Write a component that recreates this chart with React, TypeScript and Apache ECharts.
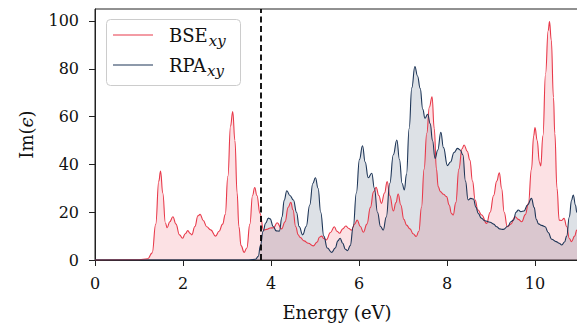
import { useEffect, useRef } from "react";
import * as echarts from "echarts";

const xTicks = [0, 2, 4, 6, 8, 10];
const yTicks = [0, 20, 40, 60, 80, 100];
const gapEnergy = 3.77;

const bseEnergy = [0, 1.0, 1.2, 1.3, 1.38, 1.45, 1.49, 1.54, 1.6, 1.64, 1.7, 1.77, 1.84, 1.92, 1.99, 2.05, 2.11, 2.16, 2.2, 2.27, 2.34, 2.39, 2.46, 2.54, 2.63, 2.74, 2.82, 2.9, 2.96, 3.02, 3.08, 3.13, 3.18, 3.23, 3.27, 3.32, 3.39, 3.45, 3.52, 3.58, 3.63, 3.68, 3.75, 3.83, 3.9, 3.98, 4.06, 4.14, 4.24, 4.32, 4.39, 4.45, 4.5, 4.56, 4.62, 4.66, 4.75, 4.85, 4.96, 5.05, 5.1, 5.15, 5.2, 5.26, 5.35, 5.44, 5.5, 5.56, 5.63, 5.7, 5.77, 5.83, 5.9, 5.96, 6.03, 6.1, 6.18, 6.26, 6.33, 6.39, 6.45, 6.51, 6.58, 6.64, 6.7, 6.78, 6.84, 6.89, 6.95, 7.02, 7.08, 7.16, 7.23, 7.3, 7.36, 7.42, 7.48, 7.54, 7.6, 7.66, 7.71, 7.76, 7.8, 7.85, 7.92, 7.99, 8.05, 8.1, 8.14, 8.2, 8.27, 8.34, 8.39, 8.46, 8.52, 8.58, 8.64, 8.7, 8.79, 8.9, 8.98, 9.06, 9.13, 9.19, 9.24, 9.3, 9.37, 9.45, 9.55, 9.62, 9.7, 9.78, 9.85, 9.92, 9.97, 10.0, 10.05, 10.1, 10.13, 10.18, 10.24, 10.3, 10.33, 10.37, 10.42, 10.45, 10.5, 10.55, 10.6, 10.66, 10.72, 10.78, 10.83, 10.9, 10.95, 11.0];
const bseValue = [0, 0.1, 0.5, 3, 15, 33, 37.2, 28, 15.5, 13.5, 16, 18.1, 15, 10.5, 9.1, 11, 12.3, 11.2, 10.5, 14, 18.5, 19.1, 16.5, 13.9, 12.6, 10.0, 12, 15, 19, 35, 56, 62.1, 50, 28, 14, 6, 3.2, 5, 15, 27, 30.3, 27, 19.5, 12.5, 12.8, 13.4, 13.5, 15.6, 13, 16, 22, 24.1, 21, 14, 10.5, 9.5, 8.0, 7, 5.9, 7.5, 9.5, 10.0, 9.0, 8.4, 11.5, 13.9, 12, 11.2, 13, 14.2, 13.2, 12.5, 15, 16.7, 14, 11.6, 15, 22, 28.5, 30.4, 27, 23.7, 28, 32.8, 27, 20.5, 24, 27.6, 23, 17, 14.6, 13, 11, 9.8, 12, 22, 38, 53, 64, 68.3, 55, 38, 30.7, 28.6, 27.5, 26.5, 23, 19.5, 18.8, 24, 38, 46.5, 48.1, 45.5, 41.8, 33, 25.1, 21, 18.8, 15.3, 20, 27, 33, 36.5, 30, 20, 13.9, 15, 18.1, 17, 16, 19, 23.7, 38, 52, 55.4, 50, 41, 39.3, 52, 78, 96, 99.7, 92, 68, 53, 30, 16.7, 16.5, 17.4, 14, 9, 7.7, 10, 12.5, 14];

const rpaEnergy = [0, 3.5, 3.65, 3.71, 3.76, 3.82, 3.88, 3.94, 3.98, 4.05, 4.12, 4.19, 4.25, 4.3, 4.36, 4.43, 4.51, 4.58, 4.64, 4.72, 4.8, 4.88, 4.95, 5.01, 5.07, 5.13, 5.2, 5.28, 5.38, 5.46, 5.52, 5.57, 5.63, 5.69, 5.74, 5.8, 5.87, 5.94, 6.01, 6.08, 6.14, 6.21, 6.29, 6.35, 6.42, 6.49, 6.55, 6.62, 6.7, 6.78, 6.86, 6.92, 6.98, 7.03, 7.08, 7.14, 7.2, 7.27, 7.33, 7.39, 7.45, 7.5, 7.56, 7.62, 7.67, 7.73, 7.79, 7.86, 7.92, 8.01, 8.08, 8.16, 8.24, 8.3, 8.36, 8.42, 8.48, 8.54, 8.6, 8.66, 8.71, 8.78, 8.86, 8.98, 9.06, 9.13, 9.2, 9.28, 9.39, 9.45, 9.51, 9.57, 9.62, 9.68, 9.75, 9.83, 9.92, 9.98, 10.03, 10.08, 10.15, 10.23, 10.3, 10.38, 10.48, 10.55, 10.61, 10.67, 10.72, 10.78, 10.83, 10.87, 10.92, 10.95, 11.0];
const rpaValue = [0, 0, 0.3, 1.5, 6, 12, 15.5, 17.5, 17.2, 14, 12.2, 12.1, 18, 25, 29.0, 27, 25.1, 20, 14, 10.5, 14, 23, 32, 34.4, 30, 20, 10, 5, 3.2, 5, 8, 9.1, 7, 4.5, 3.9, 6, 14, 28, 42, 47.8, 41, 34.4, 36.3, 30, 20, 14, 12.5, 18, 32, 44, 50.2, 42, 32, 29.3, 36, 55, 72, 80.9, 77, 71.8, 63, 59.3, 61, 57, 50, 42.5, 46, 53.4, 47, 39.5, 41, 45, 46.7, 46, 44, 33, 25.1, 25.8, 25.5, 22, 19.5, 17.5, 16.4, 15.8, 15, 13.9, 13, 12.8, 14.2, 16, 16.7, 20, 20.9, 20.2, 20.5, 23, 25.8, 22, 17, 15.1, 14.5, 13.9, 11.5, 8.7, 7.7, 7, 6.3, 7.5, 10, 18, 25, 27.2, 23, 20, 17];

const RED = "#e8394a";
const NAVY = "#1d3557";
const FONT = "'DejaVu Serif', serif";
const INK = "#111111";

const zip = (xs: number[], ys: number[]) => xs.map((x, i) => [x, ys[i]]);

export default function App() {
  const ref = useRef<HTMLDivElement>(null);
  useEffect(() => {
    document.body.style.margin = "0";
    document.body.style.overflow = "hidden";
    const chart = echarts.init(ref.current!, undefined, { renderer: "svg" });
    chart.setOption({
      animation: false,
      backgroundColor: "#ffffff",
      grid: { left: 95, top: 9, width: 484, height: 251, show: true, borderColor: "#222", borderWidth: 1, backgroundColor: "transparent" },
      xAxis: {
        type: "value",
        min: 0,
        max: 11,
        interval: 2,
        name: "Energy (eV)",
        nameLocation: "middle",
        nameGap: 43,
        nameTextStyle: { fontFamily: FONT, fontSize: 18, color: INK },
        axisLine: { show: true, lineStyle: { color: "#222", width: 1 } },
        axisTick: { show: true, length: 6, lineStyle: { color: "#222" }, customValues: xTicks },
        axisLabel: { fontFamily: FONT, fontSize: 16, color: INK, margin: 15, customValues: xTicks },
        splitLine: { show: false },
      },
      yAxis: {
        type: "value",
        min: 0,
        max: 105,
        interval: 20,
        name: "Im({e|ϵ})",
        nameLocation: "middle",
        nameGap: 60,
        nameTextStyle: { fontFamily: FONT, fontSize: 18, color: INK, rich: { e: { fontFamily: FONT, fontSize: 18, fontStyle: "italic", color: INK } } },
        axisLine: { show: true, lineStyle: { color: "#222", width: 1 } },
        axisTick: { show: true, length: 6, lineStyle: { color: "#222" }, customValues: yTicks },
        axisLabel: { fontFamily: FONT, fontSize: 16, color: INK, margin: 16, customValues: yTicks },
        splitLine: { show: false },
      },
      series: [
        {
          type: "line",
          name: "BSE",
          data: zip(bseEnergy, bseValue),
          smooth: 0.45,
          smoothMonotone: "x",
          symbol: "none",
          lineStyle: { color: RED, width: 1.1 },
          areaStyle: { color: RED, opacity: 0.15 },
        },
        {
          type: "line",
          name: "RPA",
          data: zip(rpaEnergy, rpaValue),
          smooth: 0.45,
          smoothMonotone: "x",
          symbol: "none",
          lineStyle: { color: NAVY, width: 1.1 },
          areaStyle: { color: NAVY, opacity: 0.15 },
          markLine: {
            silent: true,
            symbol: "none",
            label: { show: false },
            lineStyle: { type: [6, 3.5], color: "#000", width: 1.8 },
            data: [{ xAxis: gapEnergy }],
          },
        },
      ],
      graphic: [
        {
          type: "group",
          z: 100,
          children: [
            { type: "rect", shape: { x: 106.5, y: 19.5, width: 134, height: 66, r: 4 }, style: { fill: "rgba(255,255,255,0.8)", stroke: "#cccccc", lineWidth: 1 } },
            { type: "line", shape: { x1: 113, y1: 35, x2: 153, y2: 35 }, style: { stroke: RED, lineWidth: 1.2 } },
            { type: "line", shape: { x1: 113, y1: 65, x2: 153, y2: 65 }, style: { stroke: NAVY, lineWidth: 1.2 } },
            {
              type: "text",
              x: 169,
              y: 35,
              style: {
                text: "{a|BSE}{b|xy}",
                verticalAlign: "middle",
                rich: {
                  a: { fontFamily: FONT, fontSize: 18, fill: INK, color: INK },
                  b: { fontFamily: FONT, fontSize: 15, fontStyle: "italic", fill: INK, color: INK, padding: [11, 0, 0, 1] },
                },
              },
            },
            {
              type: "text",
              x: 169,
              y: 65,
              style: {
                text: "{a|RPA}{b|xy}",
                verticalAlign: "middle",
                rich: {
                  a: { fontFamily: FONT, fontSize: 18, fill: INK, color: INK },
                  b: { fontFamily: FONT, fontSize: 15, fontStyle: "italic", fill: INK, color: INK, padding: [11, 0, 0, 1] },
                },
              },
            },
          ],
        },
      ],
    });
    return () => chart.dispose();
  }, []);
  return <div ref={ref} style={{ position: "fixed", left: 0, top: 0, width: 590, height: 326 }} />;
}
